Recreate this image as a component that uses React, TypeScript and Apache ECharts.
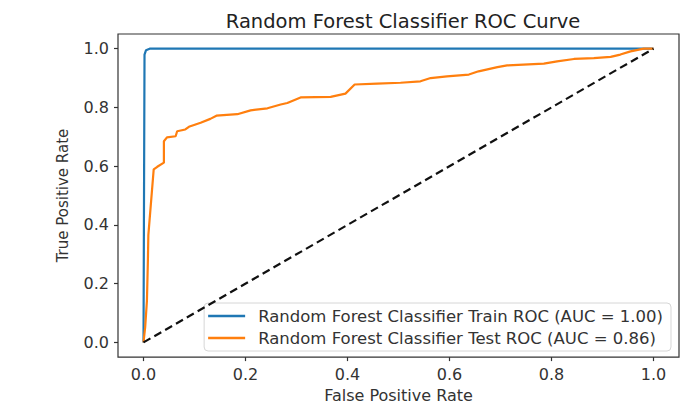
import React, { useEffect, useRef } from "react";
import * as echarts from "echarts";

const trainFpr = [0, 0.002, 0.005, 0.012, 1.0];
const trainTpr = [0, 0.98, 0.995, 1.0, 1.0];

const testFpr = [
  0, 0.0033, 0.0067, 0.0086, 0.0095, 0.02, 0.027, 0.04, 0.04, 0.046, 0.063, 0.066, 0.082,
  0.089, 0.112, 0.131, 0.143, 0.184, 0.21, 0.243, 0.269, 0.282, 0.308, 0.367, 0.396, 0.414,
  0.458, 0.504, 0.543, 0.563, 0.595, 0.638, 0.657, 0.694, 0.713, 0.785, 0.811, 0.844, 0.883,
  0.916, 0.935, 0.955, 0.981, 1.0,
];
const testTpr = [
  0, 0.052, 0.141, 0.277, 0.365, 0.589, 0.598, 0.612, 0.685, 0.698, 0.702, 0.719, 0.725,
  0.734, 0.748, 0.761, 0.772, 0.777, 0.79, 0.797, 0.81, 0.815, 0.834, 0.836, 0.847, 0.878,
  0.881, 0.884, 0.889, 0.9, 0.906, 0.912, 0.923, 0.937, 0.943, 0.949, 0.957, 0.965, 0.968,
  0.972, 0.98, 0.991, 1.0, 1.0,
];

const chanceFpr = [0, 1];
const chanceTpr = [0, 1];

const tickValues = [0, 0.2, 0.4, 0.6, 0.8, 1.0];
const trainName = "Random Forest Classifier Train ROC (AUC = 1.00)";
const testName = "Random Forest Classifier Test ROC (AUC = 0.86)";
const titleText = "Random Forest Classifier ROC Curve";

const zip = (xs: number[], ys: number[]) => xs.map((x, i) => [x, ys[i]]);

export default function App() {
  const ref = useRef<HTMLDivElement>(null);
  useEffect(() => {
    if (!ref.current) return;
    const chart = echarts.init(ref.current, null, { renderer: "svg" });
    const font = "DejaVu Sans";
    const textColor = "#333";
    chart.setOption({
      animation: false,
      backgroundColor: "#fff",
      textStyle: { fontFamily: font },
      title: {
        text: titleText,
        left: 398,
        textAlign: "center",
        top: 6,
        textStyle: { fontFamily: font, fontSize: 19.5, fontWeight: "normal", color: "#222" },
      },
      grid: {
        left: 118,
        right: 17,
        top: 34,
        bottom: 50,
        show: true,
        borderColor: "#333",
        borderWidth: 1.2,
        backgroundColor: "transparent",
      },
      legend: {
        data: [trainName, testName],
        orient: "vertical",
        right: 25,
        bottom: 57,
        icon: "rect",
        itemWidth: 37,
        itemHeight: 2.5,
        itemGap: 2,
        padding: [3, 8, 3, 4],
        backgroundColor: "rgba(255,255,255,0.85)",
        borderColor: "#d6d6d6",
        borderWidth: 1,
        borderRadius: 4,
        textStyle: {
          fontFamily: font,
          fontSize: 16.5,
          color: textColor,
          lineHeight: 20,
          padding: [0, 0, 0, 8],
        },
      },
      xAxis: {
        type: "value",
        min: -0.05,
        max: 1.05,
        name: "False Positive Rate",
        nameLocation: "middle",
        nameGap: 29,
        nameTextStyle: { fontFamily: font, fontSize: 16, color: textColor },
        axisLine: { show: false, onZero: false },
        axisTick: {
          show: true,
          length: 4,
          customValues: tickValues,
          lineStyle: { color: "#333", width: 1.2 },
        },
        axisLabel: {
          customValues: tickValues,
          formatter: (v: number) => v.toFixed(1),
          margin: 9,
          fontFamily: font,
          fontSize: 16,
          color: textColor,
        },
        splitLine: { show: false },
      },
      yAxis: {
        type: "value",
        min: -0.05,
        max: 1.05,
        name: "True Positive Rate",
        nameLocation: "middle",
        nameGap: 48,
        nameTextStyle: { fontFamily: font, fontSize: 15, color: textColor },
        axisLine: { show: false, onZero: false },
        axisTick: {
          show: true,
          length: 4,
          customValues: tickValues,
          lineStyle: { color: "#333", width: 1.2 },
        },
        axisLabel: {
          customValues: tickValues,
          formatter: (v: number) => v.toFixed(1),
          margin: 9,
          fontFamily: font,
          fontSize: 16,
          color: textColor,
        },
        splitLine: { show: false },
      },
      series: [
        {
          name: trainName,
          type: "line",
          data: zip(trainFpr, trainTpr),
          symbol: "none",
          smooth: false,
          lineStyle: { color: "#1f77b4", width: 2.2 },
          itemStyle: { color: "#1f77b4" },
          z: 2,
        },
        {
          name: testName,
          type: "line",
          data: zip(testFpr, testTpr),
          symbol: "none",
          lineStyle: { color: "#ff7f0e", width: 2.2 },
          itemStyle: { color: "#ff7f0e" },
          z: 3,
        },
        {
          name: "chance",
          type: "line",
          data: zip(chanceFpr, chanceTpr),
          symbol: "none",
          lineStyle: { color: "#111", width: 2.2, type: [8, 4.5] },
          itemStyle: { color: "#111" },
          z: 4,
        },
      ],
    });
    return () => chart.dispose();
  }, []);
  return (
    <div
      ref={ref}
      style={{ position: "fixed", left: 0, top: 0, width: 696, height: 408 }}
    />
  );
}
